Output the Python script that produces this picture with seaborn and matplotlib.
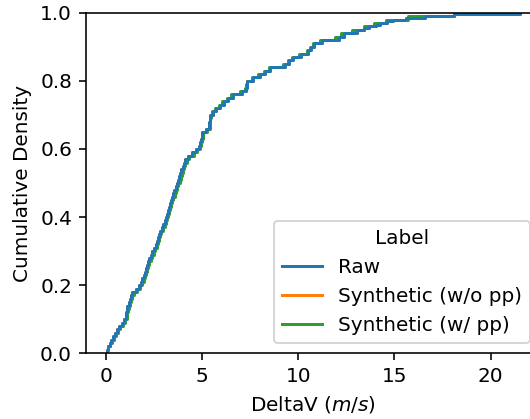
import numpy as np
import pandas as pd
import matplotlib
matplotlib.use("Agg")
import matplotlib.pyplot as plt
import seaborn as sns

labels = ["Raw", "Synthetic (w/o pp)", "Synthetic (w/ pp)"]

# Raw DeltaV samples (m/s); repeated values are tied observations
raw_dv = [0.05, 0.05, 0.10, 0.10, 0.20, 0.20, 0.30, 0.30, 0.39, 0.39,
          0.49, 0.49, 0.59, 0.59, 0.71, 0.71, 0.83, 0.83, 0.95, 0.95,
          1.05, 1.05, 1.08, 1.08, 1.10, 1.10, 1.13, 1.13, 1.19, 1.19,
          1.25, 1.25, 1.32, 1.32, 1.38, 1.38, 1.55, 1.55, 1.73, 1.73,
          1.82, 1.82, 1.90, 1.90, 1.99, 1.99, 2.04, 2.04, 2.09, 2.09,
          2.14, 2.14, 2.20, 2.20, 2.27, 2.27, 2.34, 2.34, 2.43, 2.43,
          2.51, 2.51, 2.60, 2.60, 2.65, 2.65, 2.70, 2.70, 2.75, 2.75,
          2.82, 2.82, 2.91, 2.91, 3.00, 3.00, 3.07, 3.07, 3.13, 3.13,
          3.18, 3.18, 3.23, 3.23, 3.28, 3.28, 3.32, 3.32, 3.37, 3.37,
          3.43, 3.43, 3.50, 3.50, 3.57, 3.57, 3.64, 3.64, 3.70, 3.70,
          3.76, 3.76, 3.81, 3.81, 3.87, 3.87, 3.93, 3.93, 3.99, 3.99,
          4.06, 4.06, 4.12, 4.12, 4.26, 4.26, 4.50, 4.50, 4.68, 4.68,
          4.85, 4.85, 4.89, 4.89, 4.93, 4.93, 4.98, 4.98, 5.02, 5.02,
          5.20, 5.20, 5.37, 5.37, 5.38, 5.38, 5.40, 5.40, 5.42, 5.42,
          5.55, 5.55, 5.73, 5.73, 5.92, 5.92, 6.13, 6.13, 6.36, 6.36,
          6.59, 6.59, 7.10, 7.10, 7.30, 7.30, 7.33, 7.33, 7.36, 7.36,
          7.67, 7.67, 7.99, 7.99, 8.27, 8.27, 8.55, 8.55, 9.30, 9.30,
          9.52, 9.52, 9.73, 9.73, 10.17, 10.17, 10.52, 10.52, 10.67, 10.67,
          10.82, 10.82, 11.25, 11.25, 12.10, 12.10, 12.38, 12.38, 13.07, 13.07,
          13.40, 13.70, 14.05, 14.25, 14.60, 14.95, 15.60, 16.60, 18.10, 21.50]

# the orange series lies exactly under the blue one in the reference
synth_nopp_dv = list(raw_dv)

synth_pp_dv = [0.08, 0.14, 0.24, 0.33, 0.42, 0.53, 0.63, 0.76, 0.88, 1.00,
               1.10, 1.13, 1.16, 1.19, 1.25, 1.31, 1.38, 1.45, 1.62, 1.80,
               1.89, 1.97, 2.06, 2.11, 2.16, 2.21, 2.27, 2.34, 2.41, 2.50,
               2.58, 2.67, 2.72, 2.77, 2.82, 2.89, 2.98, 3.07, 3.14, 3.20,
               3.25, 3.30, 3.35, 3.40, 3.45, 3.51, 3.58, 3.65, 3.72, 3.78,
               3.84, 3.89, 3.95, 4.01, 4.07, 4.14, 4.20, 4.34, 4.57, 4.75,
               4.91, 4.95, 4.99, 5.04, 5.08, 5.25, 5.40, 5.41, 5.43, 5.45,
               5.50, 5.68, 5.87, 6.05, 6.28, 6.50, 7.00, 7.25, 7.30, 7.34,
               7.60, 7.90, 8.20, 8.50, 9.20, 9.45, 9.68, 10.05, 10.45, 10.60,
               10.78, 11.15, 11.90, 12.20, 12.80, 13.40, 13.95, 14.55, 15.70, 18.10]

colors = ["#1f77b4", "#ff7f0e", "#2ca02c"]

df = pd.DataFrame({
    "DeltaV": raw_dv + synth_nopp_dv + synth_pp_dv,
    "Label": [labels[0]] * len(raw_dv) + [labels[1]] * len(synth_nopp_dv)
             + [labels[2]] * len(synth_pp_dv),
})

DPI = 144
fig = plt.figure(figsize=(530 / DPI, 419 / DPI), dpi=DPI)
ax = fig.add_axes([0.1623, 0.1568, 0.857, 0.8129])

sns.ecdfplot(data=df, x="DeltaV", hue="Label", hue_order=labels,
             palette=colors, ax=ax)

ax.set_xlabel("DeltaV ($m/s$)")
ax.set_ylabel("Cumulative Density")

sns.move_legend(ax, "lower right", title="Label")

fig.savefig("out.png", dpi=DPI)
